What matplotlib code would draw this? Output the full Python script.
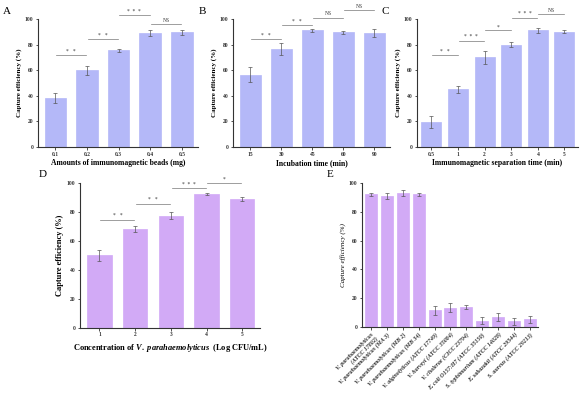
import numpy as np
import matplotlib
matplotlib.use("Agg")
import matplotlib.pyplot as plt

plt.rcParams['font.family'] = ['Liberation Serif', 'DejaVu Serif']
plt.rcParams['mathtext.fontset'] = 'custom'
plt.rcParams['mathtext.rm'] = 'Liberation Serif:bold'
plt.rcParams['mathtext.it'] = 'Liberation Serif:italic:bold'

# panel A
a_labels = ["0.1", "0.2", "0.3", "0.4", "0.5"]
a_vals = [38.5, 60, 75.5, 89, 89.5]
a_err = [4, 3.5, 1, 2.5, 2]
a_sig = [(0, 1, 72, "*   *"), (1, 2, 84, "*   *"), (2, 3, 103, "*  *  *"), (3, 4, 96, "NS")]

# panel B
b_labels = ["15", "30", "45", "60", "90"]
b_vals = [56.5, 76.5, 91, 89.5, 89]
b_err = [6, 5, 1, 1, 3]
b_sig = [(0, 1, 84, "*   *"), (1, 2, 95, "*   *"), (2, 3, 101, "NS"), (3, 4, 107, "NS")]

# panel C
c_labels = ["0.5", "1", "2", "3", "4", "5"]
c_vals = [19.5, 45, 70, 80, 91, 90]
c_err = [5, 2.5, 5, 2, 2, 1]
c_sig = [(0, 1, 72, "*   *"), (1, 2, 83, "*  *  *"), (2, 3, 91, "*"), (3, 4, 101, "*  *  *"), (4, 5, 104, "NS")]

# panel D
d_labels = ["1", "2", "3", "4", "5"]
d_vals = [50, 68, 77.5, 92.3, 89]
d_err = [4, 2, 2.5, 0.5, 1.5]
d_sig = [(0, 1, 74.5, "*   *"), (1, 2, 85.5, "*   *"), (2, 3, 96.5, "*  *  *"), (3, 4, 100, "*")]

# panel E
e_labels = ["V. parahaemolyticus\n(ATCC 17802)", "V. parahaemolyticus (MA 3)",
            "V. parahaemolyticus (MB 2)", "V. parahaemolyticus (MB 34)",
            "V. alginolyticus (ATCC 17749)", "V. harveyi (ATCC 35084)",
            "V. cholerae (CICC 23794)", "E. coli O157:H7 (ATCC 35150)",
            "S. typhimurium (ATCC 14028)", "E. sakazakii (ATCC 29544)",
            "S. aureus (ATCC 29213)"]
e_vals = [92, 91, 93, 92, 11.5, 13.5, 14, 4.5, 7, 4, 5.5]
e_err = [1, 2, 2, 1, 3, 3, 1.5, 2.5, 3, 2.5, 2.5]

blue = "#b4b8f8"
purple = "#d2aaf6"

fig = plt.figure(figsize=(5.83, 3.95), dpi=100)


def panel(rect, labels, vals, err, sig, color, xlabel, ylabel, letter, width=0.68):
    ax = fig.add_axes(rect)
    x = np.arange(len(vals))
    ax.bar(x, vals, width=width, color=color, edgecolor=color, linewidth=0.5,
           yerr=err, error_kw=dict(ecolor="#555555", elinewidth=0.5, capsize=1.2, capthick=0.5))
    ax.set_ylim(0, 100)
    ax.set_xlim(-0.55, len(vals) - 0.5)
    ax.set_yticks([0, 20, 40, 60, 80, 100])
    ax.set_xticks(x)
    ax.set_xticklabels(labels)
    for s in ["top", "right"]:
        ax.spines[s].set_visible(False)
    for s in ["left", "bottom"]:
        ax.spines[s].set_linewidth(0.8)
        ax.spines[s].set_color("#333333")
    ax.tick_params(labelsize=4, length=1.8, width=0.6, pad=1.5, colors="#333333")
    for t in ax.get_xticklabels() + ax.get_yticklabels():
        t.set_fontweight("bold")
    ax.set_xlabel(xlabel, fontsize=5.5, fontweight="bold", labelpad=2)
    ax.set_ylabel(ylabel, fontsize=5, fontweight="bold", labelpad=2)
    for i, j, y, t in sig:
        ax.plot([i + 0.02, j - 0.02], [y, y], color="#777777", lw=0.5, clip_on=False)
        ax.text((i + j) / 2, y + 1, t, ha="center", va="bottom", fontsize=4, clip_on=False,
                color="#333333")
    ax.text(-0.22, 1.02, letter, transform=ax.transAxes, fontsize=8, va="bottom", ha="left")
    return ax


panel([0.065, 0.628, 0.274, 0.324], a_labels, a_vals, a_err, a_sig, blue,
      "Amounts of immunomagnetic beads (mg)", "Capture efficiency (%)", "A")
panel([0.400, 0.628, 0.269, 0.324], b_labels, b_vals, b_err, b_sig, blue,
      "Incubation time (min)", "Capture efficiency (%)", "B")
panel([0.715, 0.628, 0.276, 0.324], c_labels, c_vals, c_err, c_sig, blue,
      "Immunomagnetic separation time (min)", "Capture efficiency (%)", "C", width=0.75)
axd = panel([0.137, 0.170, 0.309, 0.367], d_labels, d_vals, d_err, d_sig, purple,
            "", "Capture efficiency (%)", "D")
axd.set_xlabel("Concentration of $\\it{V.\\ parahaemolyticus}$  (Log CFU/mL)",
               fontsize=6, fontweight="bold", labelpad=3)
axd.yaxis.label.set_fontsize(6)
axd.texts[-1].set_position((-0.23, 1.03))

axe = panel([0.621, 0.172, 0.302, 0.365], e_labels, e_vals, e_err, [], purple,
            "", "Capture efficiency (%)", "E", width=0.75)
axe.set_xticklabels(e_labels, rotation=45, ha="right", rotation_mode="anchor",
                    fontsize=4.3, style="italic")
axe.yaxis.label.set_fontstyle("italic")
axe.yaxis.label.set_fontweight("normal")
axe.texts[-1].set_position((-0.2, 1.03))

fig.savefig("out.png", dpi=100)
